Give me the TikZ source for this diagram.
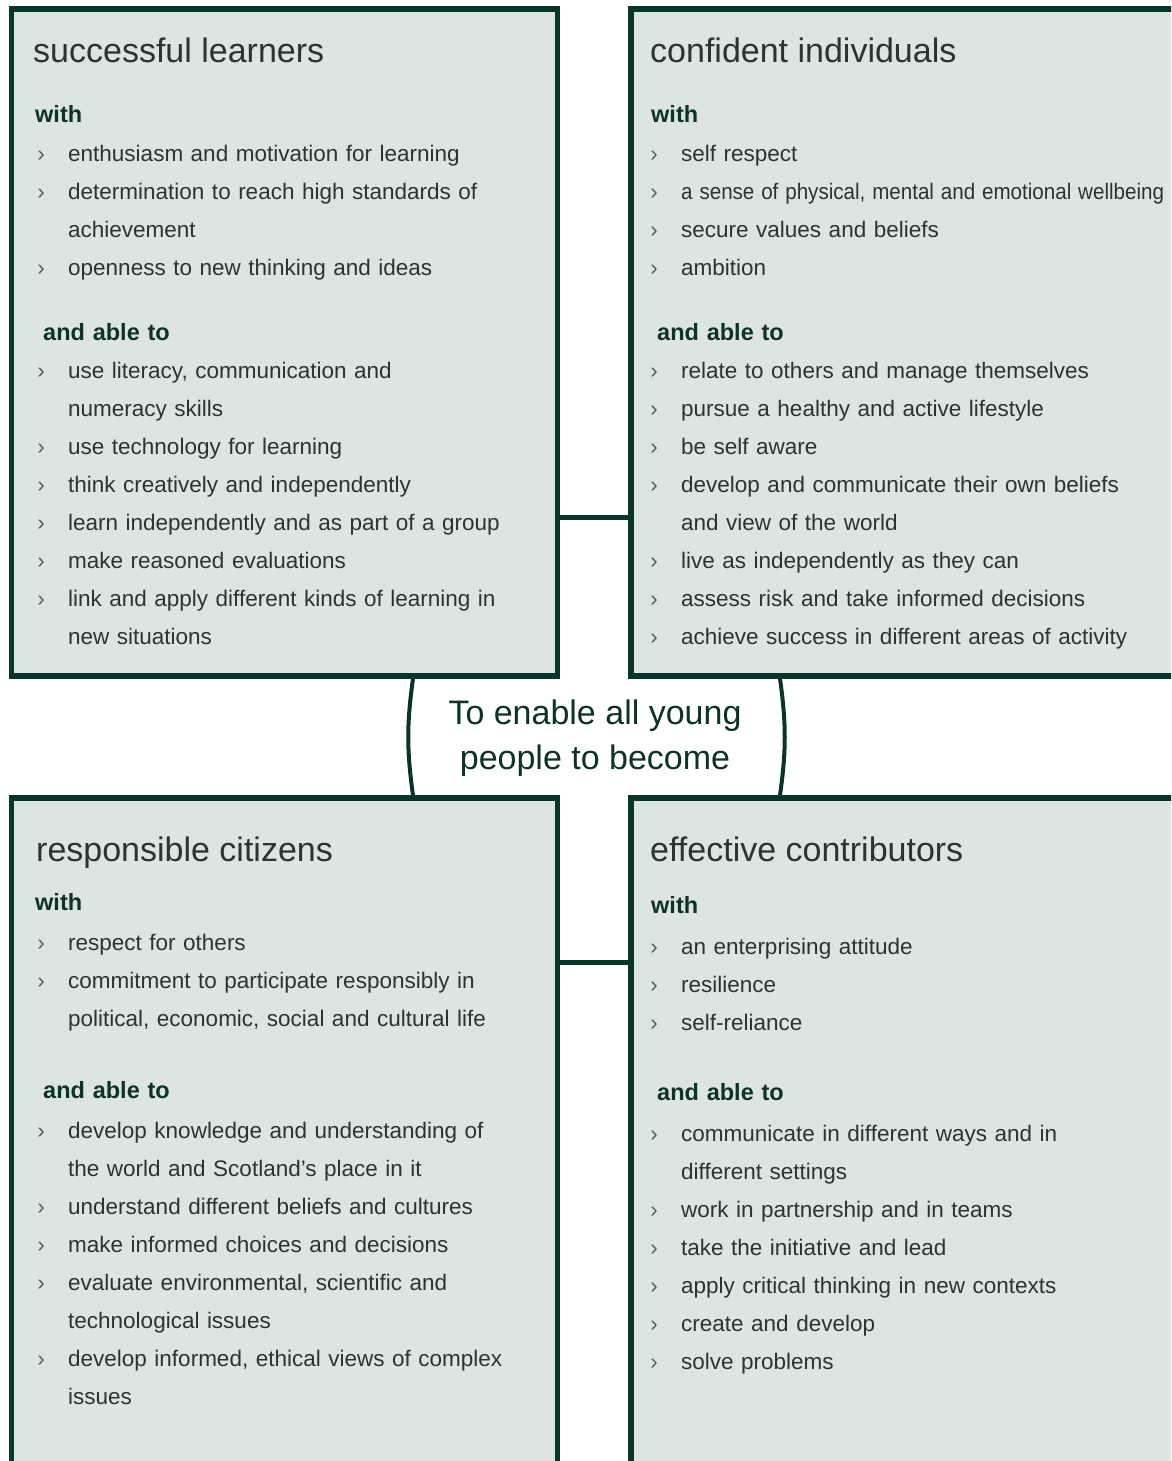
\documentclass[tikz,border=0pt]{standalone}
\usepackage{fontspec}
\setmainfont{Liberation Sans}
\usepackage{tikz}
\usetikzlibrary{positioning}
\definecolor{edge}{RGB}{8,52,42}
\definecolor{panel}{RGB}{221,229,224}
\definecolor{ink}{RGB}{44,52,49}
\definecolor{headink}{RGB}{14,50,40}
\newcommand{\bodyfont}{\fontsize{22.5}{27}\selectfont}
\newcommand{\titlefont}{\fontsize{34}{40}\selectfont}
\newcommand{\headfont}{\fontsize{23.5}{28}\selectfont\bfseries}
\newcommand{\midfont}{\fontsize{34}{45}\selectfont}

\begin{document}
\begin{tikzpicture}[x=1pt, y=-1pt, node distance={38pt}]
	\tikzstyle{pnl}=[rectangle, draw=edge, fill=panel, line width=5.5pt]
	\tikzstyle{ttl}=[anchor=base west, inner sep=0pt, text=ink, font=\titlefont]
	\tikzstyle{ln}=[inner sep=0pt, text width=560pt, align=left, text height=16pt, text depth=5pt, text=ink, font=\bodyfont]
	\tikzstyle{hd}=[ln, anchor=base west, text=headink, font=\headfont]
	\tikzstyle{chev}=[anchor=base east, inner sep=0pt, xshift=-23pt, text=ink!80, font=\bodyfont]
	\tikzstyle{lnk}=[draw=edge, line width=5pt]
	\tikzstyle{brc}=[draw=edge, line width=4pt]
	\tikzstyle{mid}=[align=center, inner sep=0pt, text=headink, font=\midfont]

	\useasboundingbox (0,0) rectangle (1171,1461);
	\clip (0,0) rectangle (1171,1461);

	\node[pnl, minimum width=546pt, minimum height=667pt] (sl) at (284.5,342.5) {};
	\node[pnl, minimum width=554pt, minimum height=667pt] (ci) at (908,342.5) {};
	\node[pnl, minimum width=546pt, minimum height=677pt] (rc) at (284.5,1136.5) {};
	\node[pnl, minimum width=554pt, minimum height=677pt] (ec) at (908,1136.5) {};

	\draw[lnk] ([yshift=-175pt]sl.east) -- ([yshift=-175pt]ci.west);
	\draw[lnk] ([yshift=174.5pt]rc.east) -- ([yshift=174.5pt]ec.west);
	\draw[brc] ([xshift=128.5pt]sl.south) to[bend right=8] ([xshift=128.5pt]rc.north);
	\draw[brc] ([xshift=-128pt]ci.south) to[bend left=8] ([xshift=-128pt]ec.north);

	\node[mid] (goal) at (595,738) {To enable all young\\people to become};

	\node[ttl] (slt) at (33,63) {successful learners};
	\node[hd] (slw) at (35,123) {with};
	\node[ln] (sl1) [below of=slw, xshift=33pt] {enthusiasm and motivation for learning};
	\node[ln] (sl2) [below of=sl1] {determination to reach high standards of};
	\node[ln] (sl3) [below of=sl2] {achievement};
	\node[ln] (sl4) [below of=sl3] {openness to new thinking and ideas};
	\node[hd] (sla) at (43,340) {and able to};
	\node[ln] (sl5) [below of=sla, xshift=25pt] {use literacy, communication and};
	\node[ln] (sl6) [below of=sl5] {numeracy skills};
	\node[ln] (sl7) [below of=sl6] {use technology for learning};
	\node[ln] (sl8) [below of=sl7] {think creatively and independently};
	\node[ln] (sl9) [below of=sl8] {learn independently and as part of a group};
	\node[ln] (sl10) [below of=sl9] {make reasoned evaluations};
	\node[ln] (sl11) [below of=sl10] {link and apply different kinds of learning in};
	\node[ln] (sl12) [below of=sl11] {new situations};

	\node[ttl] (cit) at (650,63) {confident individuals};
	\node[hd] (ciw) at (651,123) {with};
	\node[ln] (ci1) [below of=ciw, xshift=30pt] {self respect};
	\node[ln] (ci2) [below of=ci1] {\scalebox{0.915}[1]{a sense of physical, mental and emotional wellbeing}};
	\node[ln] (ci3) [below of=ci2] {secure values and beliefs};
	\node[ln] (ci4) [below of=ci3] {ambition};
	\node[hd] (cia) at (657,340) {and able to};
	\node[ln] (ci5) [below of=cia, xshift=24pt] {relate to others and manage themselves};
	\node[ln] (ci6) [below of=ci5] {pursue a healthy and active lifestyle};
	\node[ln] (ci7) [below of=ci6] {be self aware};
	\node[ln] (ci8) [below of=ci7] {develop and communicate their own beliefs};
	\node[ln] (ci9) [below of=ci8] {and view of the world};
	\node[ln] (ci10) [below of=ci9] {live as independently as they can};
	\node[ln] (ci11) [below of=ci10] {assess risk and take informed decisions};
	\node[ln] (ci12) [below of=ci11] {achieve success in different areas of activity};

	\node[ttl] (rct) at (36,861) {responsible citizens};
	\node[hd] (rcw) at (35,910) {with};
	\node[ln] (rc1) [below of=rcw, node distance=40pt, xshift=33pt] {respect for others};
	\node[ln] (rc2) [below of=rc1] {commitment to participate responsibly in};
	\node[ln] (rc3) [below of=rc2] {political, economic, social and cultural life};
	\node[hd] (rca) at (43,1098) {and able to};
	\node[ln] (rc4) [below of=rca, node distance=40pt, xshift=25pt] {develop knowledge and understanding of};
	\node[ln] (rc5) [below of=rc4] {the world and Scotland's place in it};
	\node[ln] (rc6) [below of=rc5] {understand different beliefs and cultures};
	\node[ln] (rc7) [below of=rc6] {make informed choices and decisions};
	\node[ln] (rc8) [below of=rc7] {evaluate environmental, scientific and};
	\node[ln] (rc9) [below of=rc8] {technological issues};
	\node[ln] (rc10) [below of=rc9] {develop informed, ethical views of complex};
	\node[ln] (rc11) [below of=rc10] {issues};

	\node[ttl] (ect) at (650,861) {effective contributors};
	\node[hd] (ecw) at (651,913) {with};
	\node[ln] (ec1) [below of=ecw, node distance=41pt, xshift=30pt] {an enterprising attitude};
	\node[ln] (ec2) [below of=ec1] {resilience};
	\node[ln] (ec3) [below of=ec2] {self-reliance};
	\node[hd] (eca) at (657,1100) {and able to};
	\node[ln] (ec4) [below of=eca, node distance=41pt, xshift=24pt] {communicate in different ways and in};
	\node[ln] (ec5) [below of=ec4] {different settings};
	\node[ln] (ec6) [below of=ec5] {work in partnership and in teams};
	\node[ln] (ec7) [below of=ec6] {take the initiative and lead};
	\node[ln] (ec8) [below of=ec7] {apply critical thinking in new contexts};
	\node[ln] (ec9) [below of=ec8] {create and develop};
	\node[ln] (ec10) [below of=ec9] {solve problems};

	\foreach \n in {sl1,sl2,sl4,sl5,sl7,sl8,sl9,sl10,sl11,
		ci1,ci2,ci3,ci4,ci5,ci6,ci7,ci8,ci10,ci11,ci12,
		rc1,rc2,rc4,rc6,rc7,rc8,rc10,
		ec1,ec2,ec3,ec4,ec6,ec7,ec8,ec9,ec10}
	\node[chev] (b\n) at (\n.base west) {›};
\end{tikzpicture}
\end{document}
